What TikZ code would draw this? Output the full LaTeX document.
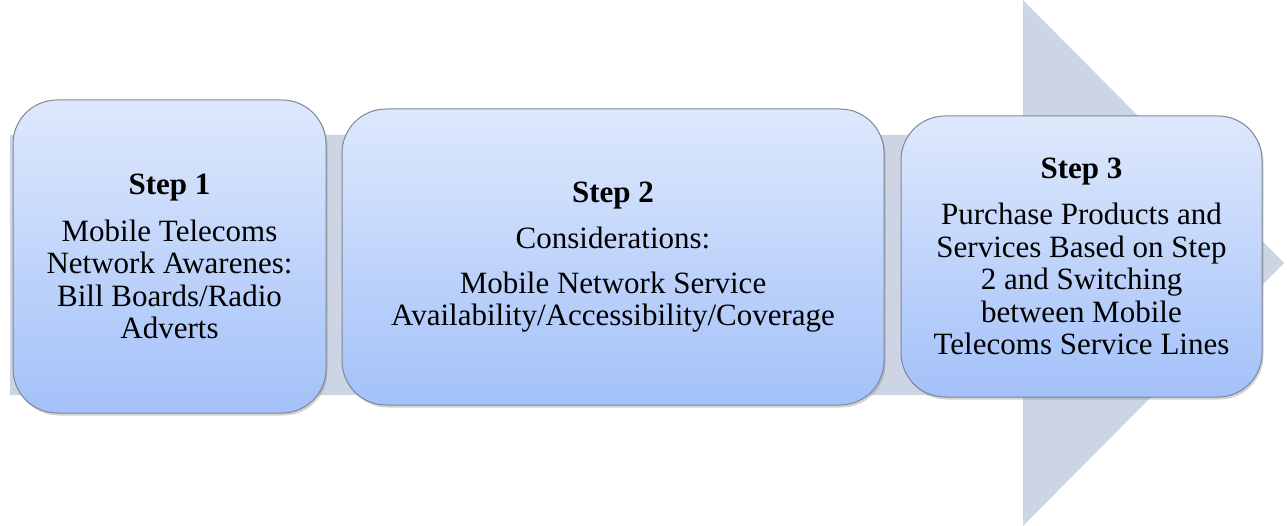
\documentclass[tikz,border=0pt]{standalone}
\usepackage{fontspec}
\setmainfont{Liberation Serif}
\usetikzlibrary{shadows}
\definecolor{arrowc}{HTML}{CDD4E4}
\definecolor{boxtop}{HTML}{DEE8FC}
\definecolor{boxbot}{HTML}{A3C1F9}
\definecolor{boxline}{HTML}{7E8796}
\tikzset{
  stepbox/.style={draw=boxline, line width=1pt, rounded corners=44pt,
    top color=boxtop, bottom color=boxbot, align=center, inner sep=0pt,
    font=\fontsize{31pt}{32.5pt}\selectfont,
    drop shadow={opacity=0.35, shadow xshift=1.5pt, shadow yshift=-2.5pt}},
  bigarrow/.style={fill=arrowc, draw=none}
}
\begin{document}
\begin{tikzpicture}[x=1pt,y=-1pt]
\useasboundingbox (0,0) rectangle (1287,526);
\fill[bigarrow] (10,135) -- (1023,135) -- (1023,0) -- (1284,263) -- (1023,526) -- (1023,395) -- (10,395) -- cycle;
\node[stepbox, minimum width=313pt, minimum height=313pt] (s1) at (169.5,256.5)
  {\textbf{Step 1}\\[14pt]Mobile Telecoms\\Network Awarenes:\\Bill Boards/Radio\\Adverts};
\node[stepbox, minimum width=542pt, minimum height=296pt] (s2) at (613,257)
  {\textbf{Step 2}\\[14pt]Considerations:\\[12pt]Mobile Network Service\\Availability/Accessibility/Coverage};
\node[stepbox, minimum width=361pt, minimum height=281pt] (s3) at (1081.5,256.5)
  {\textbf{Step 3}\\[14pt]Purchase Products and\\Services Based on Step\\2 and Switching\\between Mobile\\Telecoms Service Lines};
\end{tikzpicture}
\end{document}
